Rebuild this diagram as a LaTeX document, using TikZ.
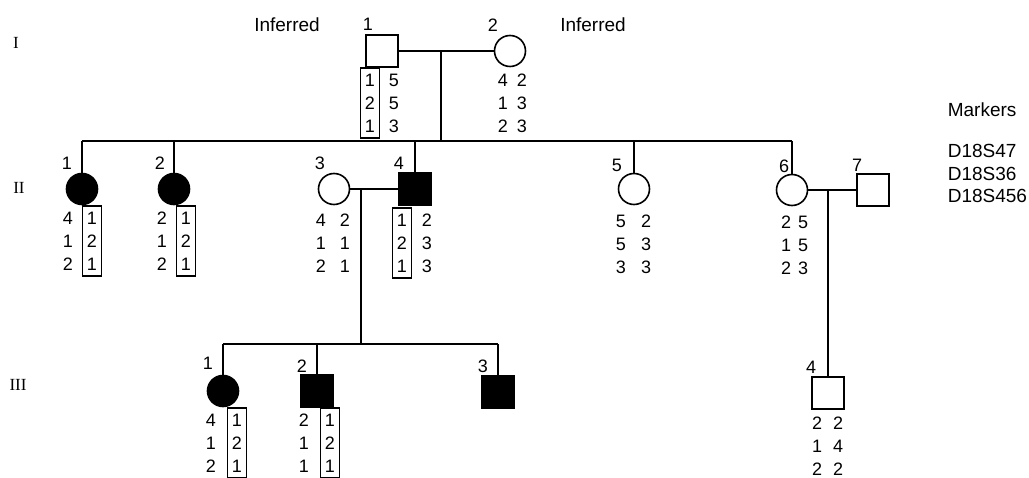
\documentclass[tikz,border=0pt]{standalone}
\usepackage{fontspec}
\setmainfont{Liberation Sans}
\newfontfamily\genfont{Liberation Serif}
\usetikzlibrary{fit}

% Two allele columns for one person: name, x of left column, x of right column, y of first row, pairs
\newcommand\gtype[5]{%
  \foreach \a/\b [count=\k] in {#5} {
    \node[allele] (#1-l\k) at (#2,{#4+23*(\k-1)}) {\a};
    \node[allele] (#1-r\k) at (#3,{#4+23*(\k-1)}) {\b};
  }%
}

\begin{document}
\begin{tikzpicture}[x=1pt,y=-1pt,
  line width=1.6pt,
  person/.style={draw, line width=1.6pt, inner sep=0pt},
  male/.style={person, rectangle, minimum size=31.5pt},
  female/.style={person, circle, minimum size=31pt},
  aff/.style={fill=black},
  idnum/.style={font=\fontsize{18}{18}\selectfont, inner sep=0pt},
  allele/.style={font=\fontsize{18}{18}\selectfont, inner sep=0pt},
  hapbox/.style={draw, line width=1.1pt, inner xsep=3.5pt, inner ysep=5pt},
  gen/.style={font=\genfont\fontsize{17}{17}\selectfont, inner sep=0pt},
  note/.style={font=\fontsize{19}{19}\selectfont, inner sep=0pt}]

\fill[white] (0,0) rectangle (1029,478);
\path[use as bounding box] (0,0) rectangle (1029,478);

% generation numerals
\node[gen] (genI) at (16,43) {I};
\node[gen] (genII) at (19,188) {II};
\node[gen] (genIII) at (18,385) {III};

% headings
\node[note] (infL) at (287,25) {Inferred};
\node[note] (infR) at (593,25) {Inferred};
\node[note, anchor=west] (mk) at (947,110) {Markers};
\node[note, anchor=west] (mk1) at (947,151) {D18S47};
\node[note, anchor=west] (mk2) at (947,174) {D18S36};
\node[note, anchor=west] (mk3) at (947,196) {D18S456};

% generation I
\node[male] (I1) at (382,51) {};
\node[female] (I2) at (510,51) {};
\node[idnum] (nI1) at (368,24) {1};
\node[idnum] (nI2) at (493,25) {2};

% generation II
\node[female,aff] (II1) at (82,189) {};
\node[female,aff] (II2) at (174,189) {};
\node[female] (II3) at (334,189) {};
\node[male,aff] (II4) at (415,189) {};
\node[female] (II5) at (634,189) {};
\node[female] (II6) at (792,190) {};
\node[male] (II7) at (873,190) {};
\node[idnum] (nII1) at (67,163) {1};
\node[idnum] (nII2) at (160,163) {2};
\node[idnum] (nII3) at (320,163) {3};
\node[idnum] (nII4) at (399,163) {4};
\node[idnum] (nII5) at (617,165) {5};
\node[idnum] (nII6) at (784,166) {6};
\node[idnum] (nII7) at (857,165) {7};

% generation III
\node[female,aff] (III1) at (223,391) {};
\node[male,aff] (III2) at (317,391) {};
\node[male,aff] (III3) at (498,392) {};
\node[male] (III4) at (828,393) {};
\node[idnum] (nIII1) at (208,363) {1};
\node[idnum] (nIII2) at (302,366) {2};
\node[idnum] (nIII3) at (483,366) {3};
\node[idnum] (nIII4) at (811,367) {4};

% marriages and descent lines
\draw (I1) -- (I2);
\coordinate (mI) at (441,51);
\coordinate (sII) at (441,141);
\coordinate (sIIL) at (82,141);
\coordinate (sIIR) at (792,141);
\draw (mI) -- (sII);
\draw (sIIL) -- (sIIR);
\foreach \p in {II1,II2,II4,II5,II6}
  \draw (\p) -- (\p |- sII);

\draw (II3) -- (II4);
\coordinate (mII) at (361,189);
\coordinate (sIII) at (361,344);
\coordinate (sIIIL) at (223,344);
\coordinate (sIIIR) at (498,344);
\draw (mII) -- (sIII);
\draw (sIIIL) -- (sIIIR);
\foreach \p in {III1,III2,III3}
  \draw (\p) -- (\p |- sIII);

\draw (II6) -- (II7);
\coordinate (mII6) at (828,190);
\draw (mII6) -- (III4);

% genotypes (D18S47, D18S36, D18S456 from top to bottom)
\gtype{gI1}{370}{394}{80}{1/5,2/5,1/3}
\node[hapbox, fit=(gI1-l1)(gI1-l3)] (hI1) {};
\gtype{gI2}{503}{522}{80}{4/2,1/3,2/3}

\gtype{gII1}{68}{92}{218}{4/1,1/2,2/1}
\node[hapbox, fit=(gII1-r1)(gII1-r3)] (hII1) {};
\gtype{gII2}{162}{186}{218}{2/1,1/2,2/1}
\node[hapbox, fit=(gII2-r1)(gII2-r3)] (hII2) {};
\gtype{gII3}{321}{345}{220}{4/2,1/1,2/1}
\gtype{gII4}{402}{427}{220}{1/2,2/3,1/3}
\node[hapbox, fit=(gII4-l1)(gII4-l3)] (hII4) {};
\gtype{gII5}{621}{646}{221}{5/2,5/3,3/3}
\gtype{gII6}{786}{803}{222}{2/5,1/5,2/3}

\gtype{gIII1}{211}{237}{420}{4/1,1/2,2/1}
\node[hapbox, fit=(gIII1-r1)(gIII1-r3)] (hIII1) {};
\gtype{gIII2}{304}{330}{420}{2/1,1/2,1/1}
\node[hapbox, fit=(gIII2-r1)(gIII2-r3)] (hIII2) {};
\gtype{gIII4}{817}{838}{423}{2/2,1/4,2/2}
\end{tikzpicture}
\end{document}
